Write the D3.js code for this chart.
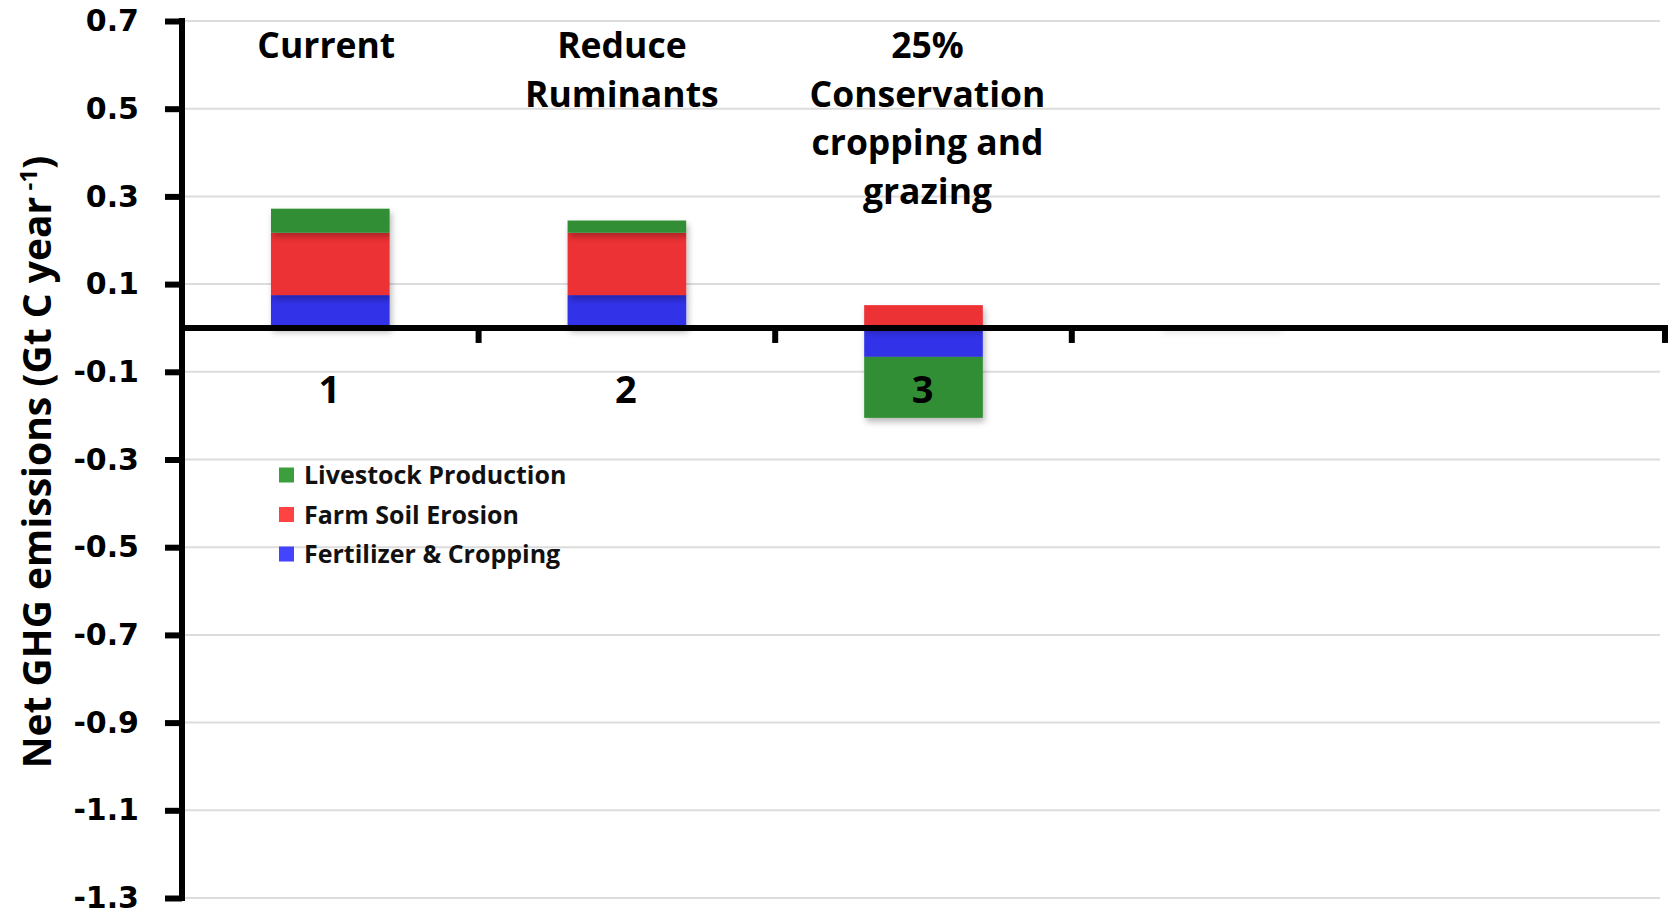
<!DOCTYPE html>
<html>
<head>
<meta charset="utf-8">
<script src="https://cdn.jsdelivr.net/npm/d3@7"></script>
<style>
  html, body { margin: 0; padding: 0; background: #fff; }
  svg { display: block; }
</style>
</head>
<body>
<svg id="chart" width="1677" height="914"></svg>
<script>
// Scenario categories along the x axis and their tick labels
const categories = ["1", "2", "3", "4", "5"];
const categoryLabels = ["1", "2", "3", "", ""];

// Emission components per scenario (Gt C per year)
const seriesNames = ["Fertilizer & Cropping", "Farm Soil Erosion", "Livestock Production"];
const fertilizerCropping = [0.075, 0.075, -0.066, 0, 0];
const farmSoilErosion = [0.142, 0.142, 0.052, 0.004, 0];
const livestockProduction = [0.055, 0.028, -0.139, 0, 0];
const seriesColors = ["#3333e8", "#ec3034", "#318e35"];
const legendColors = ["#4444ff", "#ff4242", "#3d9e3d"];

// Y axis ticks
const yTicks = [0.7, 0.5, 0.3, 0.1, -0.1, -0.3, -0.5, -0.7, -0.9, -1.1, -1.3];
const yTickLabels = ["0.7", "0.5", "0.3", "0.1", "-0.1", "-0.3", "-0.5", "-0.7", "-0.9", "-1.1", "-1.3"];

// Scenario notes printed above the bars
const scenarioNotes = [
  ["Current"],
  ["Reduce", "Ruminants"],
  ["25%", "Conservation", "cropping and", "grazing"]
];
const noteShift = [-4, -5, 4];

const yTitle = "Net GHG emissions (Gt C year";

const svg = d3.select("#chart");

const x = d3.scaleBand().domain(categories).range([182, 1665]).padding(0);
const y = d3.scaleLinear().domain([0.7, -1.3]).range([21, 898]);
const barWidth = x.bandwidth() * 0.4;

// Soft shadow under bars
const defs = svg.append("defs");
const f = defs.append("filter").attr("id", "shadow")
  .attr("x", "-20%").attr("y", "-20%").attr("width", "140%").attr("height", "140%");
f.append("feDropShadow").attr("dx", 2).attr("dy", 4).attr("stdDeviation", 3)
  .attr("flood-color", "#000").attr("flood-opacity", 0.28);

// Horizontal gridlines
svg.append("g")
  .selectAll("line")
  .data(yTicks)
  .join("line")
  .attr("x1", 185).attr("x2", 1660)
  .attr("y1", d => y(d)).attr("y2", d => y(d))
  .attr("stroke", "#dcdcdc").attr("stroke-width", 2);

// Stacked bars (positive values go up, negative values go down)
const rows = categories.map((c, i) => ({
  cat: c,
  [seriesNames[0]]: fertilizerCropping[i],
  [seriesNames[1]]: farmSoilErosion[i],
  [seriesNames[2]]: livestockProduction[i]
}));
const stacked = d3.stack().keys(seriesNames).offset(d3.stackOffsetDiverging)(rows);

const barsG = svg.append("g");
stacked.forEach((layer, si) => {
  barsG.append("g")
    .attr("fill", seriesColors[si])
    .attr("filter", "url(#shadow)")
    .selectAll("rect")
    .data(layer.filter(d => d[1] !== d[0]))
    .join("rect")
    .attr("x", d => x(d.data.cat) + (x.bandwidth() - barWidth) / 2)
    .attr("width", barWidth)
    .attr("y", d => y(Math.max(d[0], d[1])))
    .attr("height", d => Math.abs(y(d[0]) - y(d[1])));
});

// Y axis: thick line with outward ticks
const yAxis = d3.axisLeft(y)
  .tickValues(yTicks)
  .tickFormat((d, i) => yTickLabels[i])
  .tickSize(17)
  .tickSizeOuter(0)
  .tickPadding(26);
const yAxisG = svg.append("g").attr("transform", "translate(182,0)").call(yAxis);
yAxisG.select(".domain").attr("stroke", "#000").attr("stroke-width", 6)
  .attr("d", `M0,${y(0.7) - 3}V${y(-1.3) + 3}`);
yAxisG.selectAll(".tick line").attr("stroke", "#000").attr("stroke-width", 6);
yAxisG.selectAll(".tick text")
  .attr("fill", "#000")
  .style("font-family", "'DejaVu Sans', Verdana, sans-serif")
  .style("font-weight", "bold")
  .style("font-size", "30px");

// X axis at zero with ticks between categories
const xAxisG = svg.append("g");
xAxisG.append("line")
  .attr("x1", 179).attr("x2", x.range()[1] + 3)
  .attr("y1", y(0)).attr("y2", y(0))
  .attr("stroke", "#000").attr("stroke-width", 6);
const boundaries = [1, 2, 3, 5].map(i => x.range()[0] + i * x.step());
xAxisG.selectAll("line.tick")
  .data(boundaries)
  .join("line")
  .attr("class", "tick")
  .attr("x1", d => d).attr("x2", d => d)
  .attr("y1", y(0)).attr("y2", y(0) + 15)
  .attr("stroke", "#000").attr("stroke-width", 6);

// Category labels under the axis
svg.append("g")
  .selectAll("text")
  .data(categories)
  .join("text")
  .attr("x", d => x(d) + x.bandwidth() / 2 - 1)
  .attr("y", 403)
  .attr("text-anchor", "middle")
  .style("font-family", "'Open Sans', sans-serif")
  .style("font-weight", "bold")
  .style("font-size", "38px")
  .attr("fill", "#000")
  .text((d, i) => categoryLabels[i]);

// Scenario notes
const notesG = svg.append("g");
scenarioNotes.forEach((lines, i) => {
  const cx = x(categories[i]) + x.bandwidth() / 2 + noteShift[i];
  const t = notesG.append("text")
    .attr("text-anchor", "middle")
    .style("font-family", "'Open Sans', sans-serif")
    .style("font-weight", "bold")
    .style("font-size", "35.5px")
    .attr("fill", "#000");
  lines.forEach((line, j) => {
    t.append("tspan").attr("x", cx).attr("y", 58 + j * 48.5).text(line);
  });
});

// Legend (top series first)
const legendOrder = [2, 1, 0];
const legendG = svg.append("g");
legendOrder.forEach((si, r) => {
  const cy = 475 + r * 39.5;
  legendG.append("rect")
    .attr("x", 279).attr("y", cy - 7.5)
    .attr("width", 15).attr("height", 15)
    .attr("fill", legendColors[si]);
  legendG.append("text")
    .attr("x", 304).attr("y", cy + 9)
    .style("font-family", "'Open Sans', sans-serif")
    .style("font-weight", "bold")
    .style("font-size", "25px")
    .attr("fill", "#111")
    .text(seriesNames[si]);
});

// Y axis title
const title = svg.append("text")
  .attr("transform", "translate(51,462) rotate(-90)")
  .attr("text-anchor", "middle")
  .style("font-family", "'Open Sans', sans-serif")
  .style("font-weight", "bold")
  .style("font-size", "39px")
  .attr("fill", "#000");
title.append("tspan").text(yTitle);
title.append("tspan").attr("dy", -14).style("font-size", "24px").text(" -1");
title.append("tspan").attr("dy", 14).text(")");
</script>
</body>
</html>
